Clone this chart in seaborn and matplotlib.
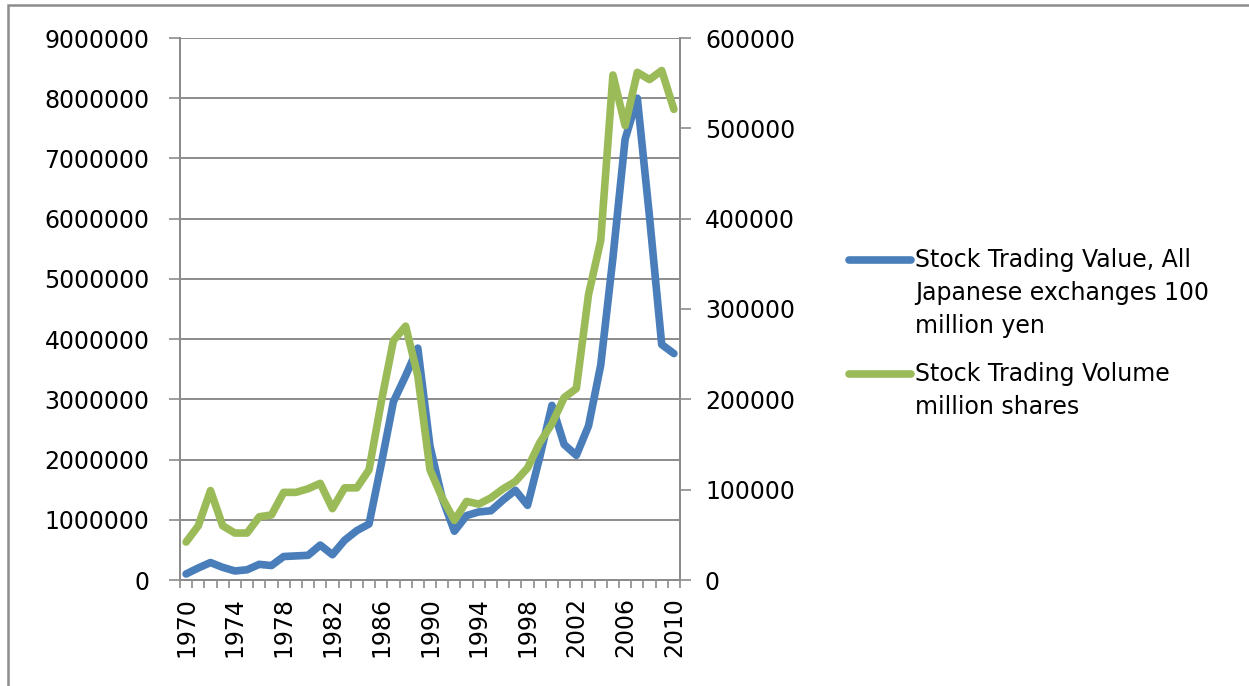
import matplotlib
matplotlib.use("Agg")

import matplotlib.pyplot as plt
import numpy as np
import pandas as pd
import seaborn as sns
from matplotlib.lines import Line2D
from matplotlib.patches import Rectangle


YEARS = list(range(1970, 2011))

TRADING_VALUE = [
    100000, 200000, 290000, 210000, 150000, 170000, 260000, 240000,
    390000, 400000, 410000, 580000, 420000, 660000, 820000, 930000,
    1920000, 2960000, 3390000, 3850000, 2220000, 1360000, 810000, 1070000,
    1130000, 1150000, 1330000, 1490000, 1240000, 2040000, 2900000, 2250000,
    2070000, 2560000, 3570000, 5350000, 7320000, 8000000, 6030000, 3910000,
    3760000,
]

TRADING_VOLUME = [
    42000, 60000, 99000, 60000, 52000, 52000, 70000, 72000,
    97000, 97000, 101000, 107000, 79000, 102000, 102000, 122000,
    197000, 265000, 281000, 226000, 122000, 91000, 66000, 87000,
    84000, 91000, 101000, 109000, 124000, 152000, 173000, 202000,
    212000, 316000, 376000, 559000, 503000, 562000, 554000, 564000,
    521000,
]

VALUE_LABEL = ["Stock Trading Value, All", "Japanese exchanges 100", "million yen"]
VOLUME_LABEL = ["Stock Trading Volume", "million shares"]

LEFT_TICKS = list(range(0, 9000001, 1000000))
RIGHT_TICKS = list(range(0, 600001, 100000))
YEAR_LABELS = list(range(1970, 2011, 4))

BLUE = "#4A7EBB"
GREEN = "#9BBB59"
GRID = "#8C8C8C"
FONT_SIZE = 17

W, H = 1249, 686


def fx(px):
    return px / W


def fy(py):
    return 1 - py / H


def main():
    df = pd.DataFrame(
        {
            "year": YEARS,
            "value": TRADING_VALUE,
            "volume": TRADING_VOLUME,
        }
    )

    sns.set_theme(style="white")
    plt.rcParams["font.family"] = ["DejaVu Sans"]
    plt.rcParams["text.color"] = "black"
    plt.rcParams["xtick.labelcolor"] = "black"
    plt.rcParams["ytick.labelcolor"] = "black"

    fig = plt.figure(figsize=(W / 100, H / 100), dpi=100)
    ax = fig.add_axes([fx(180), fy(580), fx(500), 542 / H])
    ax2 = ax.twinx()

    sns.lineplot(data=df, x="year", y="value", ax=ax, color=BLUE,
                 linewidth=5.5, legend=False, solid_joinstyle="round",
                 solid_capstyle="round", zorder=3)
    sns.lineplot(data=df, x="year", y="volume", ax=ax2, color=GREEN,
                 linewidth=5.5, legend=False, solid_joinstyle="round",
                 solid_capstyle="round", zorder=3)

    ax.set_xlim(YEARS[0] - 0.5, YEARS[-1] + 0.5)
    ax.set_ylim(0, 9000000)
    ax2.set_ylim(0, 600000)

    ax.set_yticks(LEFT_TICKS)
    ax.set_yticklabels([str(t) for t in LEFT_TICKS])
    ax2.set_yticks(RIGHT_TICKS)
    ax2.set_yticklabels([str(t) for t in RIGHT_TICKS])

    ax.set_xticks(YEAR_LABELS)
    ax.set_xticklabels([str(y) for y in YEAR_LABELS], rotation=90)
    ax.set_xticks(np.arange(YEARS[0] - 0.5, YEARS[-1] + 1), minor=True)

    ax.yaxis.grid(True, color=GRID, linewidth=1.4)
    ax.xaxis.grid(False)
    ax2.grid(False)

    ax.tick_params(axis="x", which="major", length=0, pad=12,
                   labelsize=FONT_SIZE)
    ax.tick_params(axis="x", which="minor", length=6, width=1.2,
                   color=GRID, direction="out", bottom=True)
    ax.tick_params(axis="y", length=8, width=1.2, color=GRID,
                   direction="out", labelsize=FONT_SIZE, pad=14, left=True)
    ax2.tick_params(axis="y", length=8, width=1.2, color=GRID,
                    direction="out", labelsize=FONT_SIZE, pad=10, right=True)

    for a in (ax, ax2):
        a.set_xlabel("")
        a.set_ylabel("")
        a.spines["top"].set_visible(False)
        for side in ("left", "right", "bottom"):
            a.spines[side].set_color(GRID)
            a.spines[side].set_linewidth(1.4)

    ax.set_zorder(0)
    ax2.set_zorder(1)
    ax2.patch.set_visible(False)

    # legend drawn by hand so the key sits on the first text line, like Excel
    entries = [(BLUE, VALUE_LABEL, 260), (GREEN, VOLUME_LABEL, 374)]
    for color, lines, top in entries:
        fig.add_artist(
            Line2D([fx(849), fx(911)], [fy(top), fy(top)], color=color,
                   linewidth=5.5, solid_capstyle="round",
                   transform=fig.transFigure)
        )
        for i, text in enumerate(lines):
            fig.text(fx(915), fy(top + 7 + i * 33), text,
                     fontsize=FONT_SIZE, va="baseline", ha="left")

    fig.patches.append(
        Rectangle((fx(8), -0.02), 1.1, 1.02 - 5 / H, transform=fig.transFigure,
                  fill=False, edgecolor=GRID, linewidth=1.8)
    )

    fig.savefig("out.png", dpi=100)
    plt.close(fig)


if __name__ == "__main__":
    main()
